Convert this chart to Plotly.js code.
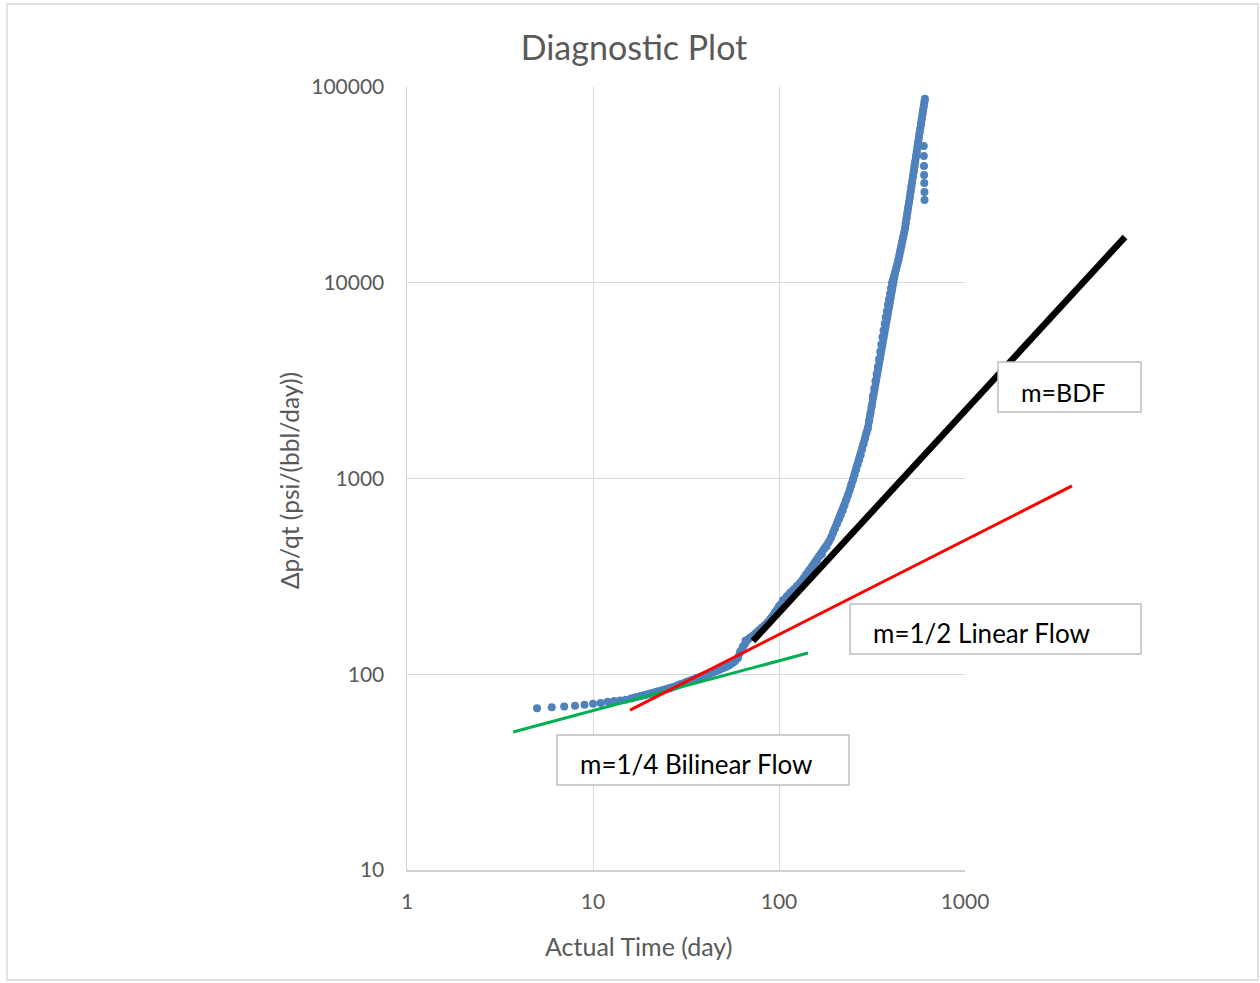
<!DOCTYPE html>
<html><head><meta charset="utf-8">
<script src="https://cdn.plot.ly/plotly-3.0.1.min.js"></script>
<style>html,body{margin:0;padding:0;background:#fff}#chart{width:1260px;height:983px}</style>
</head><body><div id="chart"></div>
<script>
// ---- data ----
const days = [5,6,7,8,9,10,11,12,13,14,15,16,17,18,19,20,21,22,23,24,25,26,27,28,29,30,32,34,36,38,40,42,44,46,48,50,52,54,56,58,60,62,64,66,68,70,72,75,78,81,84,87,90,95,100,105,110,115,120,125,130,135,140,145,150,155,160,165,170,175,180,185,190,195,200,205,210,215,220,225,230,235,240,245,250,255,260,265,270,275,280,285,290,295,300,305,310,315,320,325,330,335,340,345,350,355,360,365,370,375,380,385,390,395,400,405,410,415,420,425,430,435,440,445,450,455,460,465,470,475,480,485,490,495,500,505,510,515,520,525,530,535,540,545,550,555,560,565,570,575,580,585,590,595,600,605,609];
const ratio = [67.0,67.8,68.4,69.1,69.9,70.6,71.4,72.4,73.0,73.4,74.1,75.1,76.2,77.1,78.0,79.0,80.0,80.9,81.9,82.9,83.9,84.9,86.0,87.1,88.3,89.3,91.6,93.4,95.1,96.8,98.4,100.0,101.7,103.5,105.4,107.2,108.9,111.2,113.8,116.4,120.8,130.7,138.6,148.3,150.6,153.4,156.4,161.7,167.2,173.0,178.6,184.4,190.8,206.7,222.6,238.9,249.9,261.0,270.2,282.4,293.1,307.8,322.9,337.8,352.2,368.0,381.2,401.1,410.9,436.4,449.3,473.8,496.6,525.0,555.4,587.0,617.6,650.1,685.5,727.8,776.2,823.6,874.6,928.6,982.4,1046,1111,1179,1249,1318,1410,1502,1600,1707,1800,1972,2148,2340,2637,2871,3146,3425,3711,4067,4447,4838,5287,5713,6172,6672,7160,7690,8206,8794,9361,9974,10390,10820,11240,11700,12150,12670,13180,13870,14620,15380,16190,17060,17870,18820,20100,21310,22810,24220,25720,27320,29090,30930,32900,35010,36970,39360,41560,44260,46700,49310,52460,55360,58480,61650,65010,68550,72280,76030,79560,83950,87150];
const tailDays = [600,601,602,603,604,605,606];
const tailRatio = [50000,44460,39470,35490,32300,29060,26480];

const bilinearDays = [3.72, 143.2];
const bilinearRatio = [50.7, 128.4];
const linearDays = [15.8, 3761];
const linearRatio = [65.6, 916];
const bdfDays = [72.5, 7250];
const bdfRatio = [147.9, 17140];

const xTickVals = [1, 10, 100, 1000];
const xTickText = ['1', '10', '100', '1000'];
const yTickVals = [10, 100, 1000, 10000, 100000];
const yTickText = ['10', '100', '1000', '10000', '100000'];

const chartTitle = 'Diagnostic Plot';
const xTitle = 'Actual Time (day)';
const yTitle = 'Δp/qt (psi/(bbl/day))';
const labelBDF = 'm=BDF';
const labelLinear = 'm=1/2 Linear Flow';
const labelBilinear = 'm=1/4 Bilinear Flow';

// ---- geometry ----
const W = 1260, H = 983;
const mL = 407, mR = 120, mT = 87, mB = 113;
const plotW = W - mL - mR;    // 733
const plotH = H - mT - mB;    // 783
const mainW = 558;            // main plot width (1 .. 1000)
const mainFrac = mainW / plotW;
const px = v => (v - mL) / plotW;
const py = v => (H - mB - v) / plotH;

const FONT = 'Lato, "Open Sans", sans-serif';
const GREY = '#595959';
const BLUE = '#4f81bd';

const startIdx = days.findIndex(d => d >= 16);

const traces = [
  {x: days.slice(startIdx), y: ratio.slice(startIdx), mode: 'lines', xaxis: 'x', yaxis: 'y',
   line: {color: BLUE, width: 7.5}, hoverinfo: 'skip', showlegend: false},
  {x: days, y: ratio, mode: 'markers', xaxis: 'x', yaxis: 'y',
   marker: {color: BLUE, size: 8}, showlegend: false},
  {x: tailDays, y: tailRatio, mode: 'markers', xaxis: 'x', yaxis: 'y',
   marker: {color: BLUE, size: 8}, showlegend: false},
  {x: bilinearDays, y: bilinearRatio, mode: 'lines', xaxis: 'x2', yaxis: 'y2',
   line: {color: '#00b050', width: 3}, showlegend: false},
  {x: linearDays, y: linearRatio, mode: 'lines', xaxis: 'x2', yaxis: 'y2',
   line: {color: '#ff0000', width: 3}, showlegend: false},
  {x: bdfDays, y: bdfRatio, mode: 'lines', xaxis: 'x2', yaxis: 'y2',
   line: {color: '#000000', width: 6.5}, showlegend: false}
];

const boxLine = {color: '#bfbfbf', width: 1.5};
const LABEL_SIZE = 26;
const layout = {
  width: W, height: H,
  margin: {l: mL, r: mR, t: mT, b: mB, pad: 0},
  paper_bgcolor: '#ffffff',
  plot_bgcolor: 'rgba(0,0,0,0)',
  showlegend: false,
  font: {family: FONT, color: GREY},
  title: {text: chartTitle, font: {family: FONT, size: 34, color: GREY},
          xref: 'container', yref: 'container', x: 634 / W, y: 1 - 48 / H,
          xanchor: 'center', yanchor: 'middle'},
  xaxis: {type: 'log', domain: [0, mainFrac], range: [0, 3], anchor: 'y',
          tickvals: xTickVals, ticktext: xTickText, ticks: '', ticklabelstandoff: 12,
          tickfont: {family: FONT, size: 21, color: GREY},
          showgrid: true, gridcolor: '#d9d9d9', gridwidth: 1,
          showline: true, linecolor: '#d0d0d0', linewidth: 1.5, zeroline: false, fixedrange: true},
  yaxis: {type: 'log', domain: [0, 1], range: [1, 5], anchor: 'x',
          tickvals: yTickVals, ticktext: yTickText, ticks: '', ticklabelstandoff: 17,
          tickfont: {family: FONT, size: 21, color: GREY},
          showgrid: true, gridcolor: '#d9d9d9', gridwidth: 1,
          showline: true, linecolor: '#d0d0d0', linewidth: 1.5, zeroline: false, fixedrange: true},
  xaxis2: {type: 'log', domain: [0, 1], range: [0, 3 / mainFrac], anchor: 'y2',
           visible: false, showgrid: false, zeroline: false, fixedrange: true},
  yaxis2: {type: 'log', domain: [0, 1], range: [1, 5], anchor: 'x2',
           visible: false, showgrid: false, zeroline: false, fixedrange: true},
  shapes: [
    {type: 'rect', xref: 'paper', yref: 'paper', x0: px(7), x1: px(1258), y0: py(980), y1: py(4),
     line: {color: '#d9d9d9', width: 1.5}, fillcolor: 'rgba(0,0,0,0)', layer: 'below'},
    {type: 'rect', xref: 'paper', yref: 'paper', x0: px(998), x1: px(1141), y0: py(412), y1: py(362),
     line: boxLine, fillcolor: '#ffffff', layer: 'above'},
    {type: 'rect', xref: 'paper', yref: 'paper', x0: px(850), x1: px(1141), y0: py(654), y1: py(604),
     line: boxLine, fillcolor: '#ffffff', layer: 'above'},
    {type: 'rect', xref: 'paper', yref: 'paper', x0: px(557), x1: px(849), y0: py(785), y1: py(735),
     line: boxLine, fillcolor: '#ffffff', layer: 'above'}
  ],
  annotations: [
    {text: labelBDF, xref: 'paper', yref: 'paper', x: px(1019), y: py(392), xanchor: 'left', yanchor: 'middle',
     showarrow: false, font: {family: FONT, size: 25, color: '#000000'}},
    {text: labelLinear, xref: 'paper', yref: 'paper', x: px(871), y: py(633), xanchor: 'left', yanchor: 'middle',
     showarrow: false, font: {family: FONT, size: LABEL_SIZE, color: '#000000'}},
    {text: labelBilinear, xref: 'paper', yref: 'paper', x: px(578), y: py(764), xanchor: 'left', yanchor: 'middle',
     showarrow: false, font: {family: FONT, size: LABEL_SIZE, color: '#000000'}},
    {text: xTitle, xref: 'paper', yref: 'paper', x: px(638), y: py(946), xanchor: 'center', yanchor: 'middle',
     showarrow: false, font: {family: FONT, size: 25, color: GREY}},
    {text: yTitle, xref: 'paper', yref: 'paper', x: px(290), y: py(481), xanchor: 'center', yanchor: 'middle',
     textangle: -90, showarrow: false, font: {family: FONT, size: 24.5, color: GREY}}
  ]
};

Plotly.newPlot('chart', traces, layout, {displayModeBar: false, staticPlot: true});
</script>
</body></html>
